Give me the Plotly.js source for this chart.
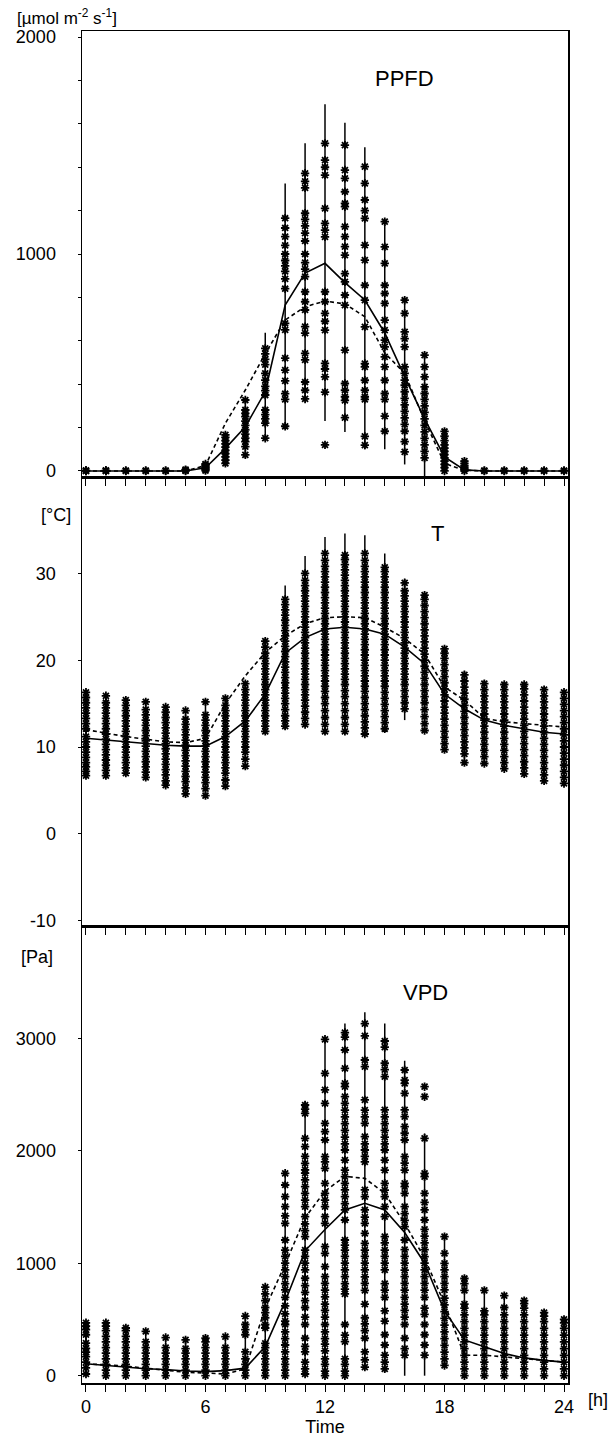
<!DOCTYPE html>
<html>
<head>
<meta charset="utf-8">
<script src="https://cdn.plot.ly/plotly-3.0.1.min.js"></script>
<style>html,body{margin:0;padding:0;background:#fff;}#chart{width:616px;height:1441px;}</style>
</head>
<body>
<div id="chart"></div>
<script>
const hours = [0,1,2,3,4,5,6,7,8,9,10,11,12,13,14,15,16,17,18,19,20,21,22,23,24];
const xTickVals = [0,6,12,18,24];
const xTickText = ['0','6','12','18','24'];
const ppfdTickVals = [0,1000,2000];
const ppfdTickText = ['0','1000','2000'];
const tTickVals = [-10,0,10,20,30];
const tTickText = ['-10','0','10','20','30'];
const vpdTickVals = [0,1000,2000,3000];
const vpdTickText = ['0','1000','2000','3000'];

// ---- PPFD [µmol m-2 s-1] ----
const ppfdSolid  = [0,0,0,0,0,0,15,104,204,365,765,912,957,868,788,636,435,240,65,5,0,0,0,0,0];
const ppfdDashed = [0,0,0,0,0,0,25,220,373,540,696,757,783,770,711,544,450,232,35,3,0,0,0,0,0];
const ppfdLow    = [0,0,0,0,0,0,0,25,60,140,195,330,230,180,100,100,30,-25,0,0,0,0,0,0,0];
const ppfdHigh   = [0,0,0,0,0,0,40,170,330,637,1325,1510,1690,1605,1492,1150,787,534,185,45,0,0,0,0,0];
const ppfdPts = [
  [0,0,3],[0,0,3],[0,2],[0,2],[0,2],[0,3,6],
  [2,8,14,20,26,32],
  [35,50,65,80,95,110,125,140,155,166],
  [74,112,135,151,170,190,210,230,250,265,281,327],
  [151,220,240,260,281,350,370,390,419,450,490,514,540,565],
  [206,330,356,415,465,520,650,680,840,885,920,945,970,1000,1040,1080,1120,1165],
  [332,372,410,512,542,635,665,742,780,826,896,930,960,1000,1060,1096,1130,1160,1188,1305,1335,1372],
  [120,363,434,470,496,649,690,726,780,826,1079,1110,1141,1210,1364,1400,1433,1510],
  [246,325,342,372,403,557,764,811,872,910,995,1034,1080,1126,1218,1233,1287,1349,1387,1502],
  [119,159,330,342,372,418,480,495,664,787,856,972,1041,1164,1200,1249,1326,1403],
  [183,253,330,357,418,480,526,572,603,649,695,772,818,856,957,1033,1149],
  [88,135,183,215,245,275,305,335,365,395,419,450,480,572,610,641,726,787],
  [60,90,120,150,180,210,240,270,300,330,357,388,434,480,534],
  [0,15,30,45,60,75,90,105,120,140,160,182],
  [0,8,16,25,35,45],
  [0,2],[0,2],[0,2],[0,2],[0,2]
];

// ---- T [°C] ----
const tSolid  = [11.0,10.8,10.6,10.4,10.2,10.1,10.1,11.2,13.0,16.1,20.8,22.6,23.6,23.8,23.6,23.0,21.5,19.6,16.1,14.4,13.1,12.5,12.1,11.7,11.5];
const tDashed = [12.0,11.6,11.2,10.9,10.6,10.5,11.0,15.0,18.2,20.9,22.8,24.2,24.9,25.0,24.9,23.8,22.5,20.7,16.9,15.4,13.3,12.9,12.7,12.5,12.3];
const tLow    = [6.5,6.5,6.8,6.3,5.5,4.5,4.3,5.3,7.5,11.5,12.0,12.5,11.5,11.5,11.5,12.3,13.1,11.8,9.5,8.2,8.2,7.5,6.9,6.0,5.8];
const tHigh   = [16.5,16.0,15.5,15.3,14.8,14.3,15.3,15.8,17.5,22.5,28.6,32.0,34.2,34.6,34.4,32.3,29.4,27.5,21.5,18.8,17.7,17.5,17.3,16.7,16.3];
const tPts = [
  [6.7,7.2,7.7,8.2,8.8,9.4,10.0,10.6,11.2,12.1,12.7,13.3,13.9,14.5,15.1,15.7,16.3],
  [6.7,7.3,7.9,8.5,9.1,9.7,10.3,10.9,11.5,12.1,12.7,13.3,13.9,14.5,15.1,15.9],
  [7.0,7.6,8.2,8.8,9.4,10.0,10.6,11.2,11.8,12.4,13.0,13.6,14.2,14.8,15.4],
  [6.5,7.1,7.7,8.3,8.9,9.5,10.1,10.7,11.3,11.9,12.5,13.1,13.7,14.3,15.2],
  [5.6,6.1,6.8,7.4,8.0,8.6,9.2,9.8,10.4,11.0,11.6,12.2,12.8,13.4,14.0,14.6],
  [4.6,5.3,6.0,6.6,7.2,7.8,8.4,9.0,9.6,10.2,10.8,11.4,12.0,12.6,13.2,14.2],
  [4.4,5.2,5.9,6.5,7.1,7.7,8.3,8.9,9.5,10.1,10.7,11.3,11.9,12.5,13.1,13.7,15.2],
  [5.5,6.2,7.0,7.6,8.2,8.8,9.4,10.0,10.6,11.2,11.8,12.4,13.0,13.6,14.2,14.8,15.6],
  [7.8,8.6,9.4,10.0,10.6,11.2,11.8,12.4,13.0,13.6,14.2,14.8,15.4,16.0,16.6,17.3],
  [11.8,12.4,13.0,13.6,14.2,14.8,15.4,16.0,16.6,17.2,17.8,18.4,19.0,19.6,20.2,20.8,21.5,22.2],
  [12.4,13.0,13.6,14.3,15.0,15.6,16.2,16.8,17.4,18.0,18.6,19.2,19.8,20.4,21.0,21.6,22.2,22.8,23.4,24.0,24.6,25.2,25.8,26.4,27.0],
  [12.6,13.3,14.0,14.7,15.4,16.0,16.6,17.2,17.8,18.4,19.0,19.6,20.2,20.8,21.4,22.0,22.6,23.2,23.8,24.4,25.0,25.6,26.2,26.8,27.4,28.0,28.6,29.2,30.0],
  [11.8,12.6,13.4,14.2,15.0,15.7,16.4,17.0,17.6,18.2,18.8,19.4,20.0,20.6,21.2,21.8,22.4,23.0,23.6,24.2,24.8,25.4,26.0,26.6,27.2,27.8,28.4,29.0,29.6,30.2,30.8,31.5,32.3],
  [11.8,12.6,13.4,14.2,15.0,15.8,16.5,17.2,17.8,18.4,19.0,19.6,20.2,20.8,21.4,22.0,22.6,23.2,23.8,24.4,25.0,25.6,26.2,26.8,27.4,28.0,28.6,29.2,29.8,30.4,31.0,31.6,32.1],
  [11.5,12.2,12.9,13.6,14.3,15.0,15.7,16.4,17.0,17.6,18.2,18.8,19.4,20.0,20.6,21.2,21.8,22.4,23.0,23.6,24.2,24.8,25.4,26.0,26.6,27.2,27.8,28.4,29.0,29.6,30.2,30.8,31.5,32.3],
  [12.1,12.8,13.5,14.2,14.9,15.6,16.3,17.0,17.6,18.2,18.8,19.4,20.0,20.6,21.2,21.8,22.4,23.0,23.6,24.2,24.8,25.4,26.0,26.6,27.2,27.8,28.4,29.0,29.6,30.2,30.7],
  [14.4,15.1,15.8,16.5,17.2,17.8,18.4,19.0,19.6,20.2,20.8,21.4,22.0,22.6,23.2,23.8,24.4,25.0,25.6,26.2,26.8,27.4,28.0,28.9],
  [11.9,12.7,13.5,14.3,15.1,15.8,16.5,17.2,17.9,18.6,19.3,20.0,20.7,21.4,22.1,22.8,23.5,24.2,24.9,25.6,26.3,27.0,27.5],
  [9.7,10.4,11.1,11.8,12.5,13.2,13.9,14.6,15.3,16.0,16.7,17.4,18.1,18.8,19.5,20.2,20.8,21.3],
  [8.2,9.2,9.9,10.6,11.3,12.0,12.7,13.4,14.1,14.8,15.5,16.2,16.9,17.6,18.3],
  [8.1,8.9,9.6,10.3,11.0,11.7,12.4,13.1,13.8,14.5,15.2,15.9,16.6,17.3],
  [7.5,8.2,8.9,9.6,10.3,11.0,11.7,12.4,13.1,13.8,14.5,15.2,15.9,16.6,17.2],
  [6.9,7.6,8.3,9.0,9.7,10.4,11.1,11.8,12.5,13.2,13.9,14.6,15.3,16.0,16.7,17.2],
  [6.1,6.8,7.5,8.2,8.9,9.6,10.3,11.0,11.7,12.4,13.1,13.8,14.5,15.2,15.9,16.6],
  [5.8,6.5,7.2,7.9,8.6,9.3,10.0,10.7,11.4,12.1,12.8,13.5,14.2,14.9,15.6,16.3]
];

// ---- VPD [Pa] ----
const vpdSolid  = [106,90,76,62,55,42,36,45,67,258,660,1110,1300,1473,1532,1473,1272,1000,576,318,258,197,158,136,121];
const vpdDashed = [106,97,85,67,50,30,24,15,61,600,990,1405,1640,1772,1754,1621,1354,1045,640,182,182,167,152,136,121];
const vpdLow    = [0,0,0,0,0,0,0,0,0,0,0,0,0,0,60,30,0,0,90,0,0,0,0,0,0];
const vpdHigh   = [470,470,424,394,339,318,333,348,530,788,1820,2440,2990,3130,3230,3130,2800,2154,1236,864,758,712,667,560,500];
const vpdPts = [
  [15,70,120,170,210,242,290,364,409,440,470],
  [0,50,100,150,200,250,300,350,400,440,470],
  [0,50,100,150,200,250,300,350,400,424],
  [0,50,100,150,200,250,300,394],
  [0,50,100,150,200,250,339],
  [0,50,100,150,200,240,318],
  [0,50,100,150,200,250,300,333],
  [0,50,100,150,200,250,348],
  [0,50,100,150,212,364,410,455,530],
  [0,50,100,150,200,250,288,424,455,515,560,606,667,727,788],
  [0,50,100,150,212,273,330,390,455,485,550,620,697,762,818,880,940,1000,1060,1117,1206,1354,1420,1502,1591,1695,1799],
  [15,60,120,212,260,333,455,520,606,667,740,800,866,940,1000,1060,1117,1236,1290,1350,1413,1502,1560,1620,1680,1740,1800,1829,1888,1950,2036,2110,2332,2370,2406],
  [0,40,100,150,220,280,330,390,455,520,580,636,700,760,821,880,969,1088,1147,1354,1413,1502,1560,1620,1710,1843,1900,1947,2095,2170,2243,2421,2540,2688,2990],
  [0,40,100,150,303,360,455,727,770,818,880,940,1000,1060,1117,1160,1206,1384,1473,1530,1591,1651,1710,1770,1828,1917,2006,2060,2120,2180,2240,2300,2360,2420,2481,2569,2599,2732,2895,3010,3050],
  [76,140,212,333,400,460,515,636,758,820,879,940,1000,1060,1117,1176,1265,1354,1410,1473,1591,1651,1900,1950,2006,2060,2125,2243,2300,2360,2451,2747,2806,3020,3130],
  [61,120,182,273,364,485,576,697,760,818,940,1000,1060,1117,1180,1236,1413,1502,1591,1650,1710,1828,1917,2006,2060,2120,2180,2240,2300,2362,2658,2720,2777,2920,2975],
  [182,240,333,455,520,580,636,697,760,820,880,939,1000,1060,1120,1206,1325,1380,1440,1502,1621,1680,1710,1828,1890,1947,2095,2155,2214,2302,2362,2510,2599,2628,2717],
  [182,273,364,455,545,600,697,760,820,880,940,1000,1058,1120,1180,1240,1300,1384,1473,1540,1621,1769,1799,2110,2480,2569],
  [91,150,210,270,330,390,450,510,570,630,690,762,820,880,940,999,1088,1236],
  [0,60,120,180,240,300,360,420,480,540,600,636,758,818,864],
  [0,60,120,180,240,300,360,420,480,540,576,758],
  [0,60,120,180,240,300,360,420,480,540,606,712],
  [0,60,120,180,240,300,360,420,480,540,600,640,667],
  [0,60,120,180,240,300,360,420,480,530,560],
  [0,60,120,180,240,300,360,420,470,500]
];

// ---------- build traces ----------
const FONT = 'Arial, "Liberation Sans", sans-serif';
function rangeTrace(lo, hi, xa, ya){
  const x=[], y=[];
  hours.forEach((h,i)=>{ x.push(h,h,null); y.push(lo[i],hi[i],null); });
  return {x, y, xaxis:xa, yaxis:ya, mode:'lines', type:'scatter', line:{color:'#000', width:1.5}, hoverinfo:'skip', showlegend:false};
}
function pointTrace(pts, xa, ya){
  const x=[], y=[];
  pts.forEach((arr,i)=>{ arr.forEach(v=>{ x.push(hours[i]); y.push(v); }); });
  return {x, y, xaxis:xa, yaxis:ya, mode:'markers', type:'scatter',
    marker:{symbol:'asterisk-open', size:7, color:'#000', line:{color:'#000', width:1.8}}, showlegend:false};
}
function lineTrace(vals, dash, xa, ya){
  return {x:hours, y:vals, xaxis:xa, yaxis:ya, mode:'lines', type:'scatter',
    line:{color:'#000', width:1.6, dash:dash}, showlegend:false};
}

const data = [
  rangeTrace(ppfdLow, ppfdHigh, 'x', 'y'),
  pointTrace(ppfdPts, 'x', 'y'),
  lineTrace(ppfdDashed, '4px,3px', 'x', 'y'),
  lineTrace(ppfdSolid, 'solid', 'x', 'y'),
  rangeTrace(tLow, tHigh, 'x2', 'y2'),
  pointTrace(tPts, 'x2', 'y2'),
  lineTrace(tDashed, '4px,3px', 'x2', 'y2'),
  lineTrace(tSolid, 'solid', 'x2', 'y2'),
  rangeTrace(vpdLow, vpdHigh, 'x3', 'y3'),
  pointTrace(vpdPts, 'x3', 'y3'),
  lineTrace(vpdDashed, '4px,3px', 'x3', 'y3'),
  lineTrace(vpdSolid, 'solid', 'x3', 'y3')
];

function xAxis(anchor, labels){
  const ax = {
    anchor: anchor, range:[-0.2, 24.2], showgrid:false, zeroline:false,
    showline:true, mirror:true, linecolor:'#000', linewidth:1.5,
    ticks:'outside', ticklen:7, tickwidth:1, tickcolor:'#000',
    tickvals: xTickVals, ticktext: xTickText, showticklabels: labels,
    minor:{dtick:1, tick0:0, ticks:'outside', ticklen:7, tickwidth:1, tickcolor:'#000', showgrid:false},
    tickfont:{family:FONT, size:18, color:'#000'}
  };
  return ax;
}
function yAxis(anchor, domain, range, tickvals, ticktext, minor){
  const ax = {
    anchor: anchor, domain: domain, range: range, showgrid:false, zeroline:false,
    showline:true, mirror:true, linecolor:'#000', linewidth:1.5,
    ticks:'outside', ticklen:3, tickwidth:1, tickcolor:'#000',
    tickvals: tickvals, ticktext: ticktext, ticklabelstandoff: 18,
    tickfont:{family:FONT, size:18, color:'#000'}
  };
  if (minor) ax.minor = {dtick:minor, ticks:'outside', ticklen:3, tickwidth:1, tickcolor:'#000', showgrid:false};
  return ax;
}

const x3 = xAxis('y3', true);
x3.title = {text:'Time', font:{family:FONT, size:18, color:'#000'}, standoff:0};

const layout = {
  width:616, height:1441,
  margin:{l:82, r:48, t:31, b:58},
  paper_bgcolor:'#fff', plot_bgcolor:'#fff',
  font:{family:FONT, size:18, color:'#000'},
  showlegend:false,
  xaxis: xAxis('y', false),
  xaxis2: xAxis('y2', false),
  xaxis3: x3,
  yaxis:  yAxis('x',  [0.6701, 1], [-28, 2028], ppfdTickVals, ppfdTickText, 200),
  yaxis2: yAxis('x2', [0.3375, 0.6701], [-10.7, 41.1], tTickVals, tTickText, null),
  yaxis3: yAxis('x3', [0, 0.3375], [-65, 3991], vpdTickVals, vpdTickText, null),
  annotations: [
    {text:'[µmol m<sup>-2</sup> s<sup>-1</sup>]', xref:'paper', yref:'paper', x:-0.1379, y:1.0104, xanchor:'left', yanchor:'middle', showarrow:false, font:{family:FONT, size:17}},
    {text:'[°C]', xref:'paper', yref:'paper', x:-0.0545, y:0.642, xanchor:'center', yanchor:'middle', showarrow:false, font:{family:FONT, size:18}},
    {text:'[Pa]', xref:'paper', yref:'paper', x:-0.0926, y:0.3151, xanchor:'center', yanchor:'middle', showarrow:false, font:{family:FONT, size:18}},
    {text:'PPFD', xref:'paper', yref:'paper', x:0.6646, y:0.9652, xanchor:'center', yanchor:'middle', showarrow:false, font:{family:FONT, size:22}},
    {text:'T', xref:'paper', yref:'paper', x:0.7305, y:0.6280, xanchor:'center', yanchor:'middle', showarrow:false, font:{family:FONT, size:22}},
    {text:'VPD', xref:'paper', yref:'paper', x:0.7078, y:0.2892, xanchor:'center', yanchor:'middle', showarrow:false, font:{family:FONT, size:22}},
    {text:'[h]', xref:'paper', yref:'paper', x:1.0617, y:-0.0126, xanchor:'center', yanchor:'middle', showarrow:false, font:{family:FONT, size:18}}
  ]
};

Plotly.newPlot('chart', data, layout, {displayModeBar:false, staticPlot:true});
</script>
</body>
</html>
